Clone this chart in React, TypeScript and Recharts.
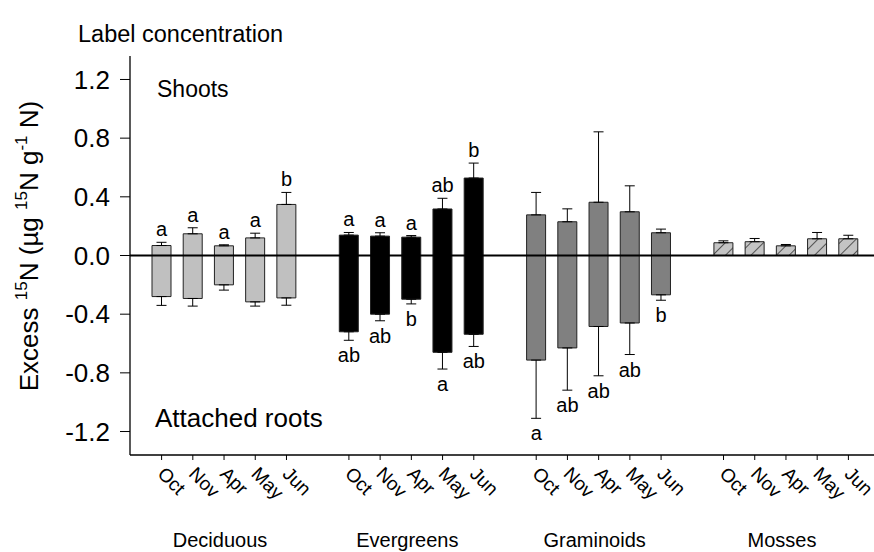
import React from 'react';
import { ComposedChart, Bar, XAxis, YAxis, ErrorBar, ReferenceLine, Line, LabelList, Cell } from 'recharts';

const months = ['Oct', 'Nov', 'Apr', 'May', 'Jun'];
const groups = ['Deciduous', 'Evergreens', 'Graminoids', 'Mosses'];
const groupFills = ['#c0c0c0', '#000000', '#808080', 'url(#mossHatch)'];
const yTicks = [-1.2, -0.8, -0.4, 0, 0.4, 0.8, 1.2];

// Shoots (positive) means and SE
const shootsDeciduous = [0.068, 0.148, 0.066, 0.12, 0.348];
const shootsEvergreens = [0.139, 0.132, 0.125, 0.317, 0.528];
const shootsGraminoids = [0.277, 0.23, 0.363, 0.298, 0.155];
const shootsMosses = [0.087, 0.094, 0.066, 0.114, 0.114];
const shootSeDeciduous = [0.022, 0.041, 0.007, 0.032, 0.082];
const shootSeEvergreens = [0.018, 0.023, 0.011, 0.073, 0.102];
const shootSeGraminoids = [0.153, 0.088, 0.48, 0.177, 0.025];
const shootSeMosses = [0.013, 0.022, 0.009, 0.043, 0.024];

// Attached roots (negative) means and SE
const rootsDeciduous = [-0.28, -0.293, -0.2, -0.316, -0.289];
const rootsEvergreens = [-0.52, -0.4, -0.298, -0.66, -0.537];
const rootsGraminoids = [-0.713, -0.63, -0.484, -0.46, -0.268];
const rootsMosses = [null, null, null, null, null];
const rootSeDeciduous = [0.06, 0.052, 0.036, 0.029, 0.05];
const rootSeEvergreens = [0.058, 0.045, 0.032, 0.114, 0.083];
const rootSeGraminoids = [0.397, 0.288, 0.336, 0.215, 0.037];
const rootSeMosses = [null, null, null, null, null];

// Significance letters
const shootLettersDeciduous = ['a', 'a', 'a', 'a', 'b'];
const shootLettersEvergreens = ['a', 'a', 'a', 'ab', 'b'];
const shootLettersGraminoids = ['', '', '', '', ''];
const shootLettersMosses = ['', '', '', '', ''];
const rootLettersDeciduous = ['', '', '', '', ''];
const rootLettersEvergreens = ['ab', 'ab', 'b', 'a', 'ab'];
const rootLettersGraminoids = ['a', 'ab', 'ab', 'ab', 'b'];
const rootLettersMosses = ['', '', '', '', ''];

const shoots = [shootsDeciduous, shootsEvergreens, shootsGraminoids, shootsMosses];
const shootSe = [shootSeDeciduous, shootSeEvergreens, shootSeGraminoids, shootSeMosses];
const roots = [rootsDeciduous, rootsEvergreens, rootsGraminoids, rootsMosses];
const rootSe = [rootSeDeciduous, rootSeEvergreens, rootSeGraminoids, rootSeMosses];
const shootLetters = [shootLettersDeciduous, shootLettersEvergreens, shootLettersGraminoids, shootLettersMosses];
const rootLetters = [rootLettersDeciduous, rootLettersEvergreens, rootLettersGraminoids, rootLettersMosses];

const rows: any[] = [];
groups.forEach((g, gi) => {
  if (gi > 0) rows.push({ key: `gap${gi}`, shoot: null, root: null, shootTop: null, rootBottom: null });
  months.forEach((m, mi) => {
    const s = shoots[gi][mi];
    const ss = shootSe[gi][mi];
    const r = roots[gi][mi];
    const rs = rootSe[gi][mi];
    rows.push({
      key: `${g}:${m}`,
      fill: groupFills[gi],
      shoot: s,
      shootErr: [0, ss],
      shootTop: s + ss,
      shootLetter: shootLetters[gi][mi],
      root: r,
      rootErr: r == null ? undefined : [rs, 0],
      rootBottom: r == null ? null : r - (rs as number),
      rootLetter: rootLetters[gi][mi],
    });
  });
});

const FONT = '"Liberation Sans", Arial, Helvetica, sans-serif';

const MonthTick = (props: any) => {
  const { x, y, payload } = props;
  const parts = String(payload.value).split(':');
  if (parts.length < 2) return null;
  const [g, m] = parts;
  return (
    <g>
      <line x1={x} x2={x} y1={y} y2={y + 5} stroke="#000" strokeWidth={1} />
      <text transform={`translate(${x - 5},${y + 20}) rotate(45)`} fontSize={19} fontFamily={FONT} fill="#000">
        {m}
      </text>
      {m === months[2] && (
        <text x={x - 4} y={y + 92} textAnchor="middle" fontSize={20} fontFamily={FONT} fill="#000">
          {g}
        </text>
      )}
    </g>
  );
};

const TopLetter = (props: any) => {
  const { x, y, value } = props;
  if (!value || y == null || isNaN(y)) return null;
  return (
    <text x={x} y={y - 6} textAnchor="middle" fontSize={20} fontFamily={FONT} fill="#000">
      {value}
    </text>
  );
};

const BottomLetter = (props: any) => {
  const { x, y, value } = props;
  if (!value || y == null || isNaN(y)) return null;
  return (
    <text x={x} y={y + 22} textAnchor="middle" fontSize={20} fontFamily={FONT} fill="#000">
      {value}
    </text>
  );
};

const YLabel = () => (
  <text transform="translate(38,246) rotate(-90)" textAnchor="middle" fontSize={26} fontFamily={FONT} fill="#000">
    <tspan>Excess </tspan>
    <tspan dy={-11} fontSize={17}>15</tspan>
    <tspan dy={11}>N (µg </tspan>
    <tspan dy={-11} fontSize={17}>15</tspan>
    <tspan dy={11}>N g</tspan>
    <tspan dy={-11} fontSize={17}>-1</tspan>
    <tspan dy={11}> N)</tspan>
  </text>
);

export default function App() {
  return (
    <div style={{ position: 'absolute', left: 0, top: 0, width: 874, height: 552, overflow: 'hidden', background: '#fff' }}>
      <svg width={0} height={0} style={{ position: 'absolute' }}>
        <defs>
          <pattern id="mossHatch" patternUnits="userSpaceOnUse" width={9} height={9} patternTransform="rotate(45)">
            <rect x={0} y={0} width={9} height={9} fill="#c4c4c4" />
            <line x1={0} y1={0} x2={0} y2={9} stroke="#222" strokeWidth={1.4} />
          </pattern>
        </defs>
      </svg>
      <ComposedChart
        width={900}
        height={552}
        data={rows}
        stackOffset="sign"
        margin={{ top: 56, right: 20, bottom: 0, left: 0 }}
        style={{ fontFamily: FONT }}
      >
        <XAxis
          dataKey="key"
          type="category"
          height={97}
          interval={0}
          tickSize={0}
          tickMargin={0}
          tick={<MonthTick />}
          padding={{ left: 16, right: 16 }}
          axisLine={{ stroke: '#000', strokeWidth: 1.3 }}
        />
        <XAxis
          xAxisId="top"
          dataKey="key"
          orientation="top"
          height={0}
          tick={false}
          tickLine={false}
          axisLine={{ stroke: '#000', strokeWidth: 1.3 }}
        />
        <YAxis
          type="number"
          domain={[-1.36, 1.36]}
          ticks={yTicks}
          width={130}
          tickSize={10}
          tickMargin={10}
          tickFormatter={(v: number) => v.toFixed(1)}
          tick={{ fill: '#000', fontSize: 26, fontFamily: FONT }}
          tickLine={{ stroke: '#000' }}
          axisLine={{ stroke: '#000', strokeWidth: 1.3 }}
          allowDataOverflow
          label={{ content: <YLabel /> }}
        />
        <Bar dataKey="shoot" stackId="s" barSize={19} stroke="#222" strokeWidth={1} isAnimationActive={false}>
          {rows.map((r, i) => (
            <Cell key={`s${i}`} fill={r.fill || '#fff'} />
          ))}
          <ErrorBar dataKey="shootErr" width={5} stroke="#000" strokeWidth={1} direction="y" />
        </Bar>
        <Bar dataKey="root" stackId="s" barSize={19} stroke="#222" strokeWidth={1} isAnimationActive={false}>
          {rows.map((r, i) => (
            <Cell key={`r${i}`} fill={r.fill || '#fff'} />
          ))}
          <ErrorBar dataKey="rootErr" width={5} stroke="#000" strokeWidth={1} direction="y" />
        </Bar>
        <ReferenceLine y={0} stroke="#000" strokeWidth={2} />
        <Line dataKey="shootTop" stroke="none" dot={false} activeDot={false} isAnimationActive={false} connectNulls={false}>
          <LabelList dataKey="shootLetter" content={<TopLetter />} />
        </Line>
        <Line dataKey="rootBottom" stroke="none" dot={false} activeDot={false} isAnimationActive={false} connectNulls={false}>
          <LabelList dataKey="rootLetter" content={<BottomLetter />} />
        </Line>
      </ComposedChart>
      <svg width={874} height={552} style={{ position: 'absolute', left: 0, top: 0, pointerEvents: 'none' }}>
        <text x={78} y={42} fontSize={23.5} fontFamily={FONT} fill="#000">Label concentration</text>
        <text x={157} y={97} fontSize={23} fontFamily={FONT} fill="#000">Shoots</text>
        <text x={155} y={427} fontSize={26} fontFamily={FONT} fill="#000">Attached roots</text>
      </svg>
    </div>
  );
}
